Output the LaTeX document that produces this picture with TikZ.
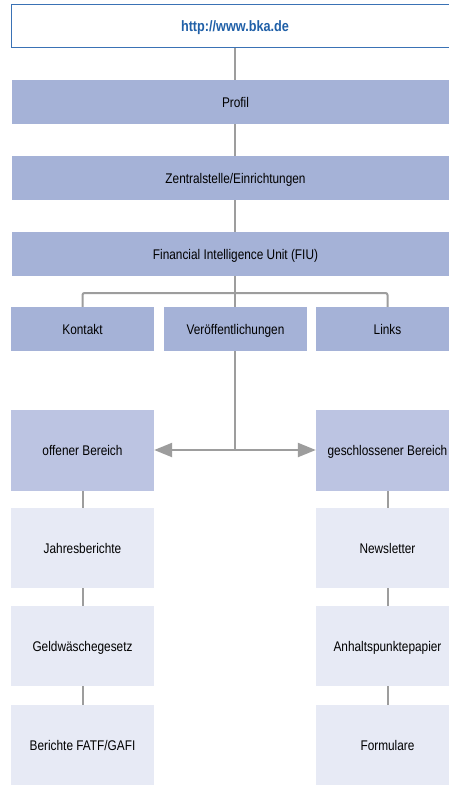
\documentclass[tikz,border=0pt]{standalone}
\usepackage{fontspec}
\setmainfont{Liberation Sans}[FakeStretch=0.845]
\usetikzlibrary{arrows.meta}
\definecolor{boxdark}{HTML}{A5B2D7}
\definecolor{boxmid}{HTML}{BCC4E2}
\definecolor{boxlight}{HTML}{E7EAF5}
\definecolor{conn}{HTML}{9D9D9D}
\definecolor{urlblue}{HTML}{2060A8}
\definecolor{frameblue}{HTML}{3A72B5}
\tikzset{
  base/.style={rectangle, inner sep=0pt, text height=10pt, text depth=0pt, font=\fontsize{14}{16}\selectfont, text=black},
  wide/.style={base, fill=boxdark, minimum width=447pt, minimum height=44pt},
  small/.style={base, fill=boxdark, minimum width=143pt, minimum height=44pt},
  area/.style={base, fill=boxmid, minimum width=143pt, minimum height=81pt},
  sub/.style={base, fill=boxlight, minimum width=143pt, minimum height=80pt},
  link/.style={draw=conn, line width=2pt},
  arr/.style={draw=conn, line width=2.3pt, -{Triangle[length=18pt,width=14pt]}},
}
\begin{document}
\begin{tikzpicture}[x=1pt,y=-1pt]
\useasboundingbox (0,0) rectangle (448,785);
\fill[white] (0,0) rectangle (448,785);
\node[base, draw=frameblue, line width=1pt, minimum width=447pt, minimum height=43pt, text=urlblue, font=\bfseries\fontsize{15}{17}\selectfont] (url) at (235,26.3) {http://www.bka.de};
\node[wide] (profil) at (235.5,102) {Profil};
\node[wide] (zentral) at (235.5,178) {Zentralstelle/Einrichtungen};
\node[wide] (fiu) at (235.5,254) {Financial Intelligence Unit (FIU)};
\node[small] (kontakt) at (82.5,329) {Kontakt};
\node[small] (veroeff) at (235.5,329) {Veröffentlichungen};
\node[small] (links) at (387.5,329) {Links};
\node[area] (offen) at (82.5,450.5) {offener Bereich};
\node[area] (geschl) at (387.5,450.5) {geschlossener Bereich};
\node[sub] (jahr) at (82.5,548) {Jahresberichte};
\node[sub] (geld) at (82.5,646) {Geldwäschegesetz};
\node[sub] (fatf) at (82.5,745) {Berichte FATF/GAFI};
\node[sub] (news) at (387.5,548) {Newsletter};
\node[sub] (anh) at (387.5,646) {Anhaltspunktepapier};
\node[sub] (form) at (387.5,745) {Formulare};
\coordinate (bus) at (235,293);
\coordinate (split) at (235,450);
\draw[link] (url.south -| bus) -- (profil.north -| bus);
\draw[link] (profil.south -| bus) -- (zentral.north -| bus);
\draw[link] (zentral.south -| bus) -- (fiu.north -| bus);
\draw[link] (fiu.south -| bus) -- (veroeff.north -| bus);
\draw[link, rounded corners=2pt] (kontakt.north) -- (kontakt.north |- bus) -- (links.north |- bus) -- (links.north);
\draw[link] (veroeff.south -| bus) -- (split);
\draw[arr] (split) -- (offen.east |- split);
\draw[arr] (split) -- (geschl.west |- split);
\draw[link] (offen.south) -- (jahr.north);
\draw[link] (jahr.south) -- (geld.north);
\draw[link] (geld.south) -- (fatf.north);
\draw[link] (geschl.south) -- (news.north);
\draw[link] (news.south) -- (anh.north);
\draw[link] (anh.south) -- (form.north);
\end{tikzpicture}
\end{document}
